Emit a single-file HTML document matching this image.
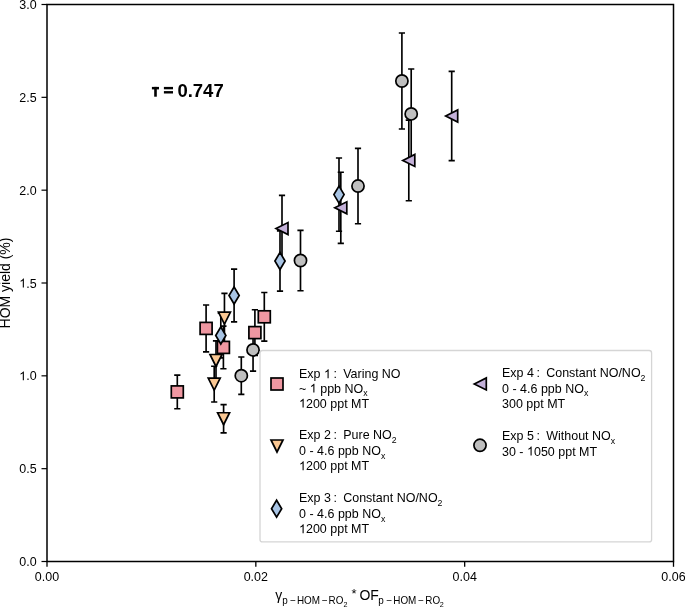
<!DOCTYPE html>
<html><head><meta charset="utf-8"><style>
html,body{margin:0;padding:0;background:#fff;overflow:hidden}
svg{display:block;font-family:"Liberation Sans",sans-serif;will-change:transform}
</style></head><body>
<svg width="685" height="607" viewBox="0 0 685 607">
<rect width="685" height="607" fill="#fff"/>
<g stroke="#000" stroke-width="1.65" fill="none"><path d="M177.3 375.05V408.75M174.2 375.05H180.4M174.2 408.75H180.4"/><path d="M206.1 305V351.8M203 305H209.2M203 351.8H209.2"/><path d="M223.4 326.1V368.7M220.3 326.1H226.5M220.3 368.7H226.5"/><path d="M254.9 309.7V355.5M251.8 309.7H258M251.8 355.5H258"/><path d="M264.3 292.5V341.1M261.2 292.5H267.4M261.2 341.1H267.4"/><path d="M224.45 293.3V343.1M221.35 293.3H227.55M221.35 343.1H227.55"/><path d="M216 340.8V380.2M212.9 340.8H219.1M212.9 380.2H219.1"/><path d="M214.2 366.2V402M211.1 366.2H217.3M211.1 402H217.3"/><path d="M223.6 404.6V432.9M220.5 404.6H226.7M220.5 432.9H226.7"/><path d="M220.8 313.1V357.9M217.7 313.1H223.9M217.7 357.9H223.9"/><path d="M234.1 269.1V321.9M231 269.1H237.2M231 321.9H237.2"/><path d="M280 230.9V291.1M276.9 230.9H283.1M276.9 291.1H283.1"/><path d="M339 158V231.2M335.9 158H342.1M335.9 231.2H342.1"/><path d="M282 195.3V261.9M278.9 195.3H285.1M278.9 261.9H285.1"/><path d="M340.8 172.2V243.4M337.7 172.2H343.9M337.7 243.4H343.9"/><path d="M408.8 120.1V200.7M405.7 120.1H411.9M405.7 200.7H411.9"/><path d="M451.7 71.35V160.65M448.6 71.35H454.8M448.6 160.65H454.8"/><path d="M241.3 357V394.4M238.2 357H244.4M238.2 394.4H244.4"/><path d="M253.05 328.7V371.1M249.95 328.7H256.15M249.95 371.1H256.15"/><path d="M300.5 230.3V290.7M297.4 230.3H303.6M297.4 290.7H303.6"/><path d="M358 148.4V223.7M354.9 148.4H361.1M354.9 223.7H361.1"/><path d="M401.9 33V129M398.8 33H405M398.8 129H405"/><path d="M411.2 69V158.8M408.1 69H414.3M408.1 158.8H414.3"/></g><g stroke="#000" stroke-width="1.7" stroke-linejoin="miter"><rect x="171.3" y="385.9" width="12" height="12" fill="#ef97a1"/><rect x="200.1" y="322.4" width="12" height="12" fill="#ef97a1"/><rect x="217.4" y="341.4" width="12" height="12" fill="#ef97a1"/><rect x="248.9" y="326.6" width="12" height="12" fill="#ef97a1"/><rect x="258.3" y="310.8" width="12" height="12" fill="#ef97a1"/><path d="M218.45 312.2H230.45L224.45 324.2Z" fill="#fac792"/><path d="M210 354.5H222L216 366.5Z" fill="#fac792"/><path d="M208.2 378.1H220.2L214.2 390.1Z" fill="#fac792"/><path d="M217.6 412.75H229.6L223.6 424.75Z" fill="#fac792"/><path d="M220.8 327L225.9 335.5L220.8 344L215.7 335.5Z" fill="#a8c4e4"/><path d="M234.1 287L239.2 295.5L234.1 304L229 295.5Z" fill="#a8c4e4"/><path d="M280 252.5L285.1 261L280 269.5L274.9 261Z" fill="#a8c4e4"/><path d="M339 186.1L344.1 194.6L339 203.1L333.9 194.6Z" fill="#a8c4e4"/><path d="M276 228.6L288 222.6V234.6Z" fill="#c4b1d9"/><path d="M334.8 207.8L346.8 201.8V213.8Z" fill="#c4b1d9"/><path d="M402.8 160.4L414.8 154.4V166.4Z" fill="#c4b1d9"/><path d="M445.7 116L457.7 110V122Z" fill="#c4b1d9"/><circle cx="241.3" cy="375.7" r="6.1" fill="#bfbfbf"/><circle cx="253.05" cy="349.9" r="6.1" fill="#bfbfbf"/><circle cx="300.5" cy="260.5" r="6.1" fill="#bfbfbf"/><circle cx="358" cy="186.05" r="6.1" fill="#bfbfbf"/><circle cx="401.9" cy="81" r="6.1" fill="#bfbfbf"/><circle cx="411.2" cy="113.9" r="6.1" fill="#bfbfbf"/></g><rect x="260" y="350.5" width="391.6" height="191.39999999999998" rx="2.5" fill="#fff" fill-opacity="0.8" stroke="#d5d5d5" stroke-width="1.3"/><g stroke="#000" stroke-width="1.7"><rect x="271" y="378" width="12" height="12" fill="#ef97a1"/><path d="M271 440H283L277 452Z" fill="#fac792"/><path d="M276.6 500.2L281.7 508.7L276.6 517.2L271.5 508.7Z" fill="#a8c4e4"/><path d="M474.3 383.9L486.3 377.9V389.9Z" fill="#c4b1d9"/><circle cx="480" cy="445.3" r="6.1" fill="#bfbfbf"/></g><g fill="#000"><g transform="translate(299 378.3) scale(1 1.041)"><text font-size="12.5">Exp  </text><path d="M763 0H583V1098Q518 1038 413 979T223 890V1057Q375 1125 489 1221T650 1409H763Z" transform="translate(24.98 0) scale(0.006104 -0.006104)"/></g><g transform="translate(333.45 378.3) scale(1 1.041)"><text font-size="12.5">:</text></g><g transform="translate(343.2 378.3) scale(1 1.041)"><text font-size="12.5">Varing NO</text></g><g transform="translate(299 392.6) scale(1 1.041)"><text font-size="12.5">~   ppb NO<tspan font-size="8.75" dy="3.5">x</tspan></text><path d="M763 0H583V1098Q518 1038 413 979T223 890V1057Q375 1125 489 1221T650 1409H763Z" transform="translate(10.76 0) scale(0.006104 -0.006104)"/></g><g transform="translate(299 407.6) scale(1 1.041)"><text font-size="12.5"> 200 ppt MT</text><path d="M763 0H583V1098Q518 1038 413 979T223 890V1057Q375 1125 489 1221T650 1409H763Z" transform="translate(0 0) scale(0.006104 -0.006104)"/></g><g transform="translate(299 439.2) scale(1 1.041)"><text font-size="12.5">Exp 2</text></g><g transform="translate(333.45 439.2) scale(1 1.041)"><text font-size="12.5">:</text></g><g transform="translate(343.2 439.2) scale(1 1.041)"><text font-size="12.5">Pure NO<tspan font-size="8.75" dy="3.5">2</tspan></text></g><g transform="translate(299 455) scale(1 1.041)"><text font-size="12.5">0 - 4.6 ppb NO<tspan font-size="8.75" dy="3.5">x</tspan></text></g><g transform="translate(299 470.3) scale(1 1.041)"><text font-size="12.5"> 200 ppt MT</text><path d="M763 0H583V1098Q518 1038 413 979T223 890V1057Q375 1125 489 1221T650 1409H763Z" transform="translate(0 0) scale(0.006104 -0.006104)"/></g><g transform="translate(299 502) scale(1 1.041)"><text font-size="12.5">Exp 3</text></g><g transform="translate(333.45 502) scale(1 1.041)"><text font-size="12.5">:</text></g><g transform="translate(343.2 502) scale(1 1.041)"><text font-size="12.5">Constant NO/NO<tspan font-size="8.75" dy="3.5">2</tspan></text></g><g transform="translate(299 518) scale(1 1.041)"><text font-size="12.5">0 - 4.6 ppb NO<tspan font-size="8.75" dy="3.5">x</tspan></text></g><g transform="translate(299 533.3) scale(1 1.041)"><text font-size="12.5"> 200 ppt MT</text><path d="M763 0H583V1098Q518 1038 413 979T223 890V1057Q375 1125 489 1221T650 1409H763Z" transform="translate(0 0) scale(0.006104 -0.006104)"/></g><g transform="translate(502 377) scale(1 1.041)"><text font-size="12.5">Exp 4</text></g><g transform="translate(536.45 377) scale(1 1.041)"><text font-size="12.5">:</text></g><g transform="translate(546.2 377) scale(1 1.041)"><text font-size="12.5">Constant NO/NO<tspan font-size="8.75" dy="3.5">2</tspan></text></g><g transform="translate(502 392.8) scale(1 1.041)"><text font-size="12.5">0 - 4.6 ppb NO<tspan font-size="8.75" dy="3.5">x</tspan></text></g><g transform="translate(502 408.3) scale(1 1.041)"><text font-size="12.5">300 ppt MT</text></g><g transform="translate(502 440) scale(1 1.041)"><text font-size="12.5">Exp 5</text></g><g transform="translate(536.45 440) scale(1 1.041)"><text font-size="12.5">:</text></g><g transform="translate(546.2 440) scale(1 1.041)"><text font-size="12.5">Without NO<tspan font-size="8.75" dy="3.5">x</tspan></text></g><g transform="translate(502 455.5) scale(1 1.041)"><text font-size="12.5">30 -  050 ppt MT</text><path d="M763 0H583V1098Q518 1038 413 979T223 890V1057Q375 1125 489 1221T650 1409H763Z" transform="translate(24.98 0) scale(0.006104 -0.006104)"/></g></g><g stroke="#000" fill="none"><rect x="47.0" y="4.5" width="626.5" height="557.0" stroke-width="1.5"/><line x1="41.5" y1="561.5" x2="47.0" y2="561.5" stroke-width="1.2"/><line x1="41.5" y1="468.67" x2="47.0" y2="468.67" stroke-width="1.2"/><line x1="41.5" y1="375.83" x2="47.0" y2="375.83" stroke-width="1.2"/><line x1="41.5" y1="283" x2="47.0" y2="283" stroke-width="1.2"/><line x1="41.5" y1="190.17" x2="47.0" y2="190.17" stroke-width="1.2"/><line x1="41.5" y1="97.33" x2="47.0" y2="97.33" stroke-width="1.2"/><line x1="41.5" y1="4.5" x2="47.0" y2="4.5" stroke-width="1.2"/><line x1="47" y1="561.5" x2="47" y2="566.8" stroke-width="1.3"/><line x1="255.83" y1="561.5" x2="255.83" y2="566.8" stroke-width="1.3"/><line x1="464.67" y1="561.5" x2="464.67" y2="566.8" stroke-width="1.3"/><line x1="673.5" y1="561.5" x2="673.5" y2="566.8" stroke-width="1.3"/></g><g fill="#000"><g transform="translate(36.6 566) scale(1 1.041)"><text font-size="12.5" text-anchor="end">0.0</text></g><g transform="translate(36.6 473.17) scale(1 1.041)"><text font-size="12.5" text-anchor="end">0.5</text></g><g transform="translate(36.6 380.33) scale(1 1.041)"><text font-size="12.5" text-anchor="end"> .0</text><path d="M763 0H583V1098Q518 1038 413 979T223 890V1057Q375 1125 489 1221T650 1409H763Z" transform="translate(-17.37 0) scale(0.006104 -0.006104)"/></g><g transform="translate(36.6 287.5) scale(1 1.041)"><text font-size="12.5" text-anchor="end"> .5</text><path d="M763 0H583V1098Q518 1038 413 979T223 890V1057Q375 1125 489 1221T650 1409H763Z" transform="translate(-17.37 0) scale(0.006104 -0.006104)"/></g><g transform="translate(36.6 194.67) scale(1 1.041)"><text font-size="12.5" text-anchor="end">2.0</text></g><g transform="translate(36.6 101.83) scale(1 1.041)"><text font-size="12.5" text-anchor="end">2.5</text></g><g transform="translate(36.6 9) scale(1 1.041)"><text font-size="12.5" text-anchor="end">3.0</text></g><g transform="translate(47 581) scale(1 1.041)"><text font-size="12.5" text-anchor="middle">0.00</text></g><g transform="translate(255.83 581) scale(1 1.041)"><text font-size="12.5" text-anchor="middle">0.02</text></g><g transform="translate(464.67 581) scale(1 1.041)"><text font-size="12.5" text-anchor="middle">0.04</text></g><g transform="translate(673.5 581) scale(1 1.041)"><text font-size="12.5" text-anchor="middle">0.06</text></g></g><g fill="#000"><rect x="151.9" y="86.9" width="7.1" height="2.5"/><rect x="154.2" y="86.9" width="2.6" height="9.8"/><rect x="163.9" y="86.9" width="9.1" height="2.4"/><rect x="163.9" y="91.1" width="9.1" height="2.4"/></g><g transform="translate(177.4 96.7) scale(1 1.041)"><text font-size="18.5" font-weight="bold">0.747</text></g><g transform="translate(9.5 328.4) rotate(-90) scale(1 1.041)"><text font-size="14">HOM yield (%)</text></g><g fill="#000"><g transform="translate(275.3 599.6) scale(1 1.041)"><text font-size="14">γ</text></g><g transform="translate(282.16 604) scale(1 1.041)"><text font-size="9.9">p</text></g><g transform="translate(289.71 604) scale(1 1.041)"><text font-size="9.9">−</text></g><g transform="translate(296.94 604) scale(1 1.041)"><text font-size="9.9">HOM</text></g><g transform="translate(321.51 604) scale(1 1.041)"><text font-size="9.9">−</text></g><g transform="translate(328.59 604) scale(1 1.041)"><text font-size="9.9">RO</text></g><g transform="translate(343.55 607.3) scale(1 1.041)"><text font-size="7.2">2</text></g><g transform="translate(351.5 598.4) scale(1 1.041)"><text font-size="13">*</text></g><g transform="translate(359.4 599.6) scale(1 1.041)"><text font-size="14">OF</text></g><g transform="translate(378.36 604) scale(1 1.041)"><text font-size="9.9">p</text></g><g transform="translate(385.91 604) scale(1 1.041)"><text font-size="9.9">−</text></g><g transform="translate(393.29 604) scale(1 1.041)"><text font-size="9.9">HOM</text></g><g transform="translate(417.81 604) scale(1 1.041)"><text font-size="9.9">−</text></g><g transform="translate(425.29 604) scale(1 1.041)"><text font-size="9.9">RO</text></g><g transform="translate(439.85 607.3) scale(1 1.041)"><text font-size="7.2">2</text></g></g></svg>
</body></html>
